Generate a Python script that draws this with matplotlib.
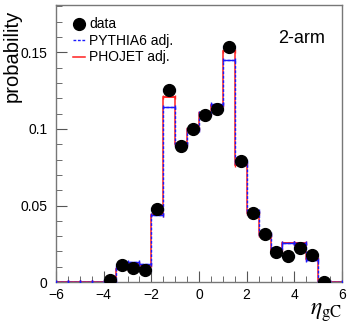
import numpy as np
import matplotlib
matplotlib.use("Agg")
from matplotlib import pyplot as plt
from matplotlib.lines import Line2D
from matplotlib.ticker import MultipleLocator

plt.rcParams['font.family'] = ['Liberation Sans', 'DejaVu Sans']
plt.rcParams['mathtext.fontset'] = 'stix'

# bin edges: -6 .. 6, width 0.5
edges = np.arange(-6, 6.01, 0.5)
centers = 0.5 * (edges[:-1] + edges[1:])

# data points (bins -4 .. 5.5)
data_x = [-3.75, -3.25, -2.75, -2.25, -1.75, -1.25, -0.75, -0.25, 0.25, 0.75,
          1.25, 1.75, 2.25, 2.75, 3.25, 3.75, 4.25, 4.75, 5.25]
data_y = [0.0013, 0.0113, 0.0094, 0.0078, 0.0475, 0.1255, 0.0891, 0.1002, 0.1092, 0.1131,
          0.1536, 0.0791, 0.0449, 0.0314, 0.0194, 0.0168, 0.0224, 0.0176, 0.0002]
data_err = [0.0004, 0.0008, 0.0008, 0.0008, 0.0012, 0.0015, 0.0012, 0.0012, 0.0012, 0.0012,
            0.0015, 0.0012, 0.001, 0.001, 0.0008, 0.0008, 0.0008, 0.0008, 0.0002]

# PHOJET adj. (full 24 bins)
phojet = [0, 0, 0, 0, 0.0003, 0.0087, 0.0124, 0.011, 0.0438, 0.121, 0.0902, 0.0998,
          0.1102, 0.1159, 0.1512, 0.0767, 0.0451, 0.0309, 0.0209, 0.0255, 0.0255, 0.015, 0, 0]
# PYTHIA6 adj.
pythia = [0, 0, 0, 0, 0.0003, 0.0095, 0.013, 0.012, 0.0438, 0.1142, 0.0905, 0.0995,
          0.1105, 0.1165, 0.1449, 0.0785, 0.0462, 0.0315, 0.0222, 0.0258, 0.0258, 0.0145, 0, 0]

fig = plt.figure(figsize=(3.49, 3.28), dpi=100)
ax = fig.add_axes([0.1605, 0.140, 0.8195, 0.845])

ax.stairs(phojet, edges, color='#ff2020', lw=1.1, zorder=2)
ax.stairs(pythia, edges, color='#1a1aff', lw=1.0, ls=(0, (2, 1.2)), zorder=3)

# small cap marks on the histogram tops
ax.errorbar(centers, phojet, xerr=0.25, fmt='none', ecolor='#ff2020', elinewidth=1.1,
            capsize=1.5, zorder=2)
ax.errorbar(centers, pythia, xerr=0.25, fmt='none', ecolor='#1a1aff', elinewidth=1.0,
            capsize=1.5, zorder=3)

ax.errorbar(data_x, data_y, yerr=data_err, xerr=0.25, fmt='o', color='black',
            ms=8.5, ecolor='#9aa6d8', elinewidth=1.0, capsize=1.5, zorder=4)

ax.set_xlim(-6, 6)
ax.set_ylim(0, 0.181)
ax.xaxis.set_major_locator(MultipleLocator(2))
ax.xaxis.set_minor_locator(MultipleLocator(0.5))
ax.yaxis.set_major_locator(MultipleLocator(0.05))
ax.yaxis.set_minor_locator(MultipleLocator(0.01))
ax.set_yticks([0, 0.05, 0.1, 0.15])
ax.set_yticklabels(['0', '0.05', '0.1', '0.15'])
ax.tick_params(which='both', direction='in', top=False, right=False, labelsize=10,
               color='#555555')
ax.tick_params(axis='y', pad=6)
ax.tick_params(axis='x', pad=4.5)
ax.tick_params(which='major', length=8)
ax.tick_params(which='minor', length=4)
for s in ax.spines.values():
    s.set_color('#777777')
    s.set_linewidth(1.0)

fig.text(0.036, 0.97, 'probability', rotation=90, ha='center', va='top', fontsize=14.5)
fig.text(0.98, 0.04, r'$\eta_{\mathrm{gC}}$', ha='right', va='baseline', fontsize=17)
ax.text(0.86, 0.88, '2-arm', transform=ax.transAxes, ha='center', va='center', fontsize=13)

handles = [Line2D([], [], marker='o', color='black', ls='none', ms=8.5),
           Line2D([], [], color='#1a1aff', lw=1.0, ls=(0, (2, 1.2))),
           Line2D([], [], color='#ff2020', lw=1.1)]
ax.legend(handles, ['data', 'PYTHIA6 adj.', 'PHOJET adj.'], loc='upper left',
          bbox_to_anchor=(0.03, 0.985), frameon=False, fontsize=10, handlelength=0.9,
          handletextpad=0.25, labelspacing=0.18, borderaxespad=0.2)

fig.savefig('out.png', dpi=100)
